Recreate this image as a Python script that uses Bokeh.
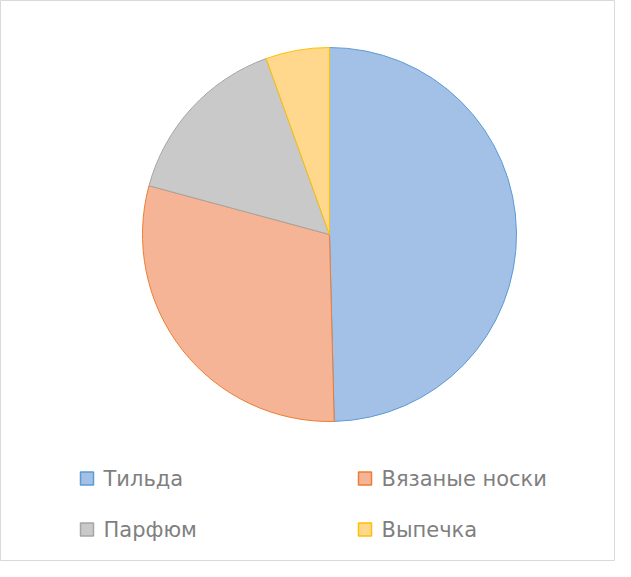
from bokeh.plotting import figure
from bokeh.models import ColumnDataSource
from bokeh.core.properties import value
from bokeh.embed import file_html
from bokeh.resources import INLINE
import numpy as np

# Данные
categories = ["Тильда", "Вязаные носки", "Парфюм", "Выпечка"]
shares = [49.6, 29.6, 15.3, 5.5]
fill_colors = ["#a3c0e6", "#f6b497", "#c9c9c9", "#ffd88e"]
line_colors = ["#5b9bd5", "#ed7d31", "#a5a5a5", "#ffc000"]

W, H = 615, 561
p = figure(width=W, height=H, x_range=(0, W), y_range=(0, H),
           output_backend="svg", toolbar_location=None,
           min_border=0, background_fill_color="white")
p.axis.visible = False
p.grid.visible = False
p.outline_line_color = "#d9d9d9"

# Углы секторов: от 12 часов по часовой стрелке
frac = np.array(shares) / sum(shares)
cum = np.concatenate([[0], np.cumsum(frac)])
start = np.pi / 2 - 2 * np.pi * cum[:-1]
end = np.pi / 2 - 2 * np.pi * cum[1:]

src = ColumnDataSource(dict(start=start, end=end, fill=fill_colors, line=line_colors))
cx, cy, r = 329, H - 234, 187
p.wedge(x=cx, y=cy, radius=r, start_angle="start", end_angle="end",
        direction="clock", fill_color="fill", line_color="line",
        line_width=1, source=src)

# Легенда
lx = [86.5, 364.5, 86.5, 364.5]
ly = [H - 478, H - 478, H - 529, H - 529]
leg = ColumnDataSource(dict(x=lx, y=ly, tx=[x + 16.5 for x in lx], label=categories,
                            fill=fill_colors, line=line_colors))
p.rect(x="x", y="y", width=13, height=13, fill_color="fill", line_color="line",
       line_width=1.5, source=leg)
p.text(x="tx", y="y", text="label", text_font=value("DejaVu Sans"),
       text_font_size="21px", text_color="#7f7f7f", text_baseline="middle",
       source=leg)

open("out.html", "w").write(file_html(p, INLINE))
